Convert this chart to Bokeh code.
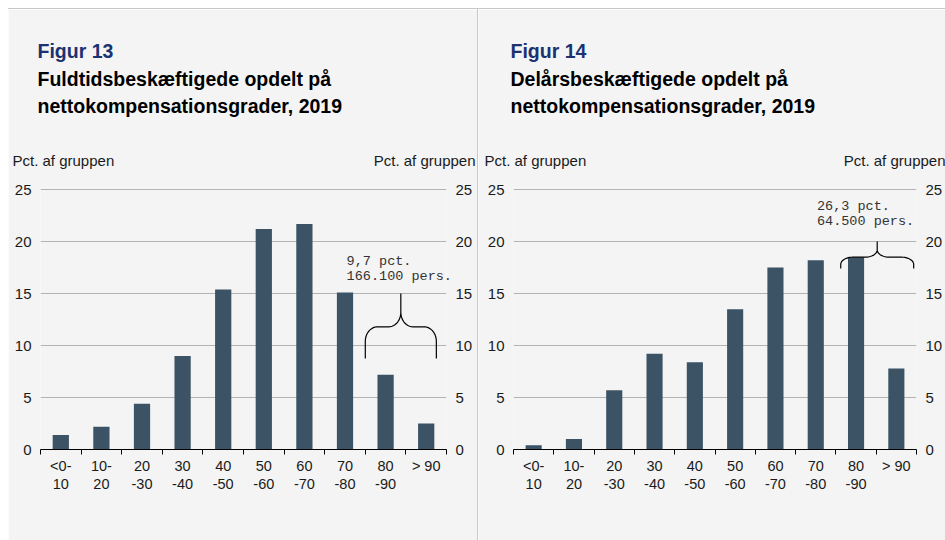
import numpy as np
from bokeh.plotting import figure
from bokeh.models import Range1d, LinearAxis, FixedTicker, Label
from bokeh.layouts import row
from bokeh.embed import file_html
from bokeh.resources import INLINE

# ---------------- data ----------------
categories = ["<0-\n10", "10-\n20", "20\n-30", "30\n-40", "40\n-50",
              "50\n-60", "60\n-70", "70\n-80", "80\n-90", "> 90"]
fuldtid = [1.4, 2.2, 4.4, 9.0, 15.4, 21.2, 21.7, 15.1, 7.2, 2.5]
delaar = [0.4, 1.0, 5.7, 9.2, 8.4, 13.5, 17.5, 18.2, 18.5, 7.8]
y_ticks = [0, 5, 10, 15, 20, 25]
titles_13 = ["Figur 13", "Fuldtidsbeskæftigede opdelt på", "nettokompensationsgrader, 2019"]
titles_14 = ["Figur 14", "Delårsbeskæftigede opdelt på", "nettokompensationsgrader, 2019"]
y_label = "Pct. af gruppen"
note_13 = ["9,7 pct.", "166.100 pers."]
note_14 = ["26,3 pct.", "64.500 pers."]

BG = "#f4f4f4"
BAR = "#3b5365"
GRID = "#b3b3b3"
NAVY = "#1b3272"
FONT = "Liberation Sans"
MONO = "Liberation Mono"


def brace(x0, x1, yb, ym, yt, rx, ry, n=12):
    xc = (x0 + x1) / 2
    xs, ys = [x0], [yb]
    t = np.linspace(np.pi, np.pi / 2, n)
    xs += list(x0 + rx + rx * np.cos(t)); ys += list(ym - ry + ry * np.sin(t))
    t = np.linspace(-np.pi / 2, 0, n)
    xs += list(xc - rx + rx * np.cos(t)); ys += list(ym + ry + ry * np.sin(t))
    xs += [xc, xc]; ys += [yt, ym + ry]
    t = np.linspace(np.pi, 3 * np.pi / 2, n)
    xs += list(xc + rx + rx * np.cos(t)); ys += list(ym + ry + ry * np.sin(t))
    t = np.linspace(np.pi / 2, 0, n)
    xs += list(x1 - rx + rx * np.cos(t)); ys += list(ym - ry + ry * np.sin(t))
    xs += [x1]; ys += [yb]
    return xs, ys


def panel(width, bl, br, values, titles, note, note_xy, brace_args, lab_off):
    n = len(categories)
    p = figure(width=width, height=532, output_backend="svg", toolbar_location=None,
               x_range=Range1d(0.5, n + 0.5), y_range=Range1d(0, 25.2),
               min_border_left=bl, min_border_right=br, min_border_top=178,
               min_border_bottom=92)
    p.background_fill_color = BG
    p.border_fill_color = BG
    p.outline_line_color = None

    xs = list(range(1, n + 1))
    p.vbar(x=xs, top=values, width=0.4, fill_color=BAR, line_color=None)

    xa = p.xaxis[0]
    xa.ticker = FixedTicker(ticks=xs, minor_ticks=[i + 0.5 for i in range(0, n + 1)])
    xa.major_label_overrides = {i + 1: c for i, c in enumerate(categories)}
    xa.major_tick_line_color = None
    xa.minor_tick_line_color = "black"
    xa.minor_tick_in = 0
    xa.minor_tick_out = 5
    xa.axis_line_color = "black"
    xa.axis_line_width = 1.2
    xa.major_label_standoff = 2
    xa.major_label_text_font = FONT
    xa.major_label_text_font_size = "14.5px"
    xa.major_label_text_line_height = 1.15
    xa.major_label_text_color = "#1a1a1a"
    p.xgrid.visible = False

    ya = p.yaxis[0]
    ra = LinearAxis()
    p.add_layout(ra, "right")
    for a in (ya, ra):
        a.ticker = FixedTicker(ticks=y_ticks)
        a.axis_line_color = None
        a.major_tick_line_color = None
        a.minor_tick_line_color = None
        a.major_tick_out = 0
        a.major_tick_in = 0
        a.minor_tick_out = 0
        a.minor_tick_in = 0
        a.major_label_standoff = 9
        a.major_label_text_font = FONT
        a.major_label_text_font_size = "15px"
        a.major_label_text_color = "#1a1a1a"
    p.ygrid.ticker = FixedTicker(ticks=y_ticks[1:])
    p.ygrid.grid_line_color = GRID
    p.ygrid.grid_line_width = 1

    # header texts, placed in the side panel above the frame (not clipped)
    offs = [137, 109, 82]
    for t, yo in zip(titles, offs):
        p.add_layout(Label(x=0.5, y=25.2, x_offset=-3, y_offset=yo, text=t,
                           text_font=FONT, text_font_size="19.5px", text_font_style="bold",
                           text_color=NAVY if t.startswith("Figur") else "black",
                           text_baseline="alphabetic"), "above")
    p.add_layout(Label(x=0.5, y=25.2, x_offset=lab_off[0], y_offset=27, text=y_label,
                       text_font=FONT, text_font_size="15px",
                       text_color="#1a1a1a", text_baseline="alphabetic"), "above")
    p.add_layout(Label(x=n + 0.5, y=25.2, x_offset=lab_off[1], y_offset=27, text=y_label,
                       text_font=FONT, text_font_size="15px",
                       text_color="#1a1a1a", text_baseline="alphabetic", text_align="right"),
                 "above")

    for i, t in enumerate(note):
        p.add_layout(Label(x=note_xy[0], y=note_xy[1], y_offset=5 - 15 * i, text=t,
                           text_font=MONO, text_font_size="13.5px", text_color="#333333",
                           text_baseline="alphabetic"), "above")
    bx, by = brace(*brace_args)
    p.line(bx, by, line_color="black", line_width=1.2)
    return p


p1 = panel(470, 32, 32, fuldtid, titles_13, note_13, (8.04, 17.6),
           (8.5, 10.25, 8.75, 11.8, 15.0, 0.3, 1.4), (-28, 29))
p2 = panel(467, 35, 27, delaar, titles_14, note_14, (8.03, 22.9),
           (8.62, 10.43, 17.4, 18.5, 20.0, 0.3, 0.7), (-29, 29))
p1.styles = {"border-top": "1px solid #c8c8c8", "border-right": "1px solid #c8c8c8"}
p2.styles = {"border-top": "1px solid #c8c8c8"}

layout = row(p1, p2, spacing=0)
layout.styles = {"margin-left": "8px", "margin-top": "8px"}
open("out.html", "w").write(file_html(layout, INLINE))
